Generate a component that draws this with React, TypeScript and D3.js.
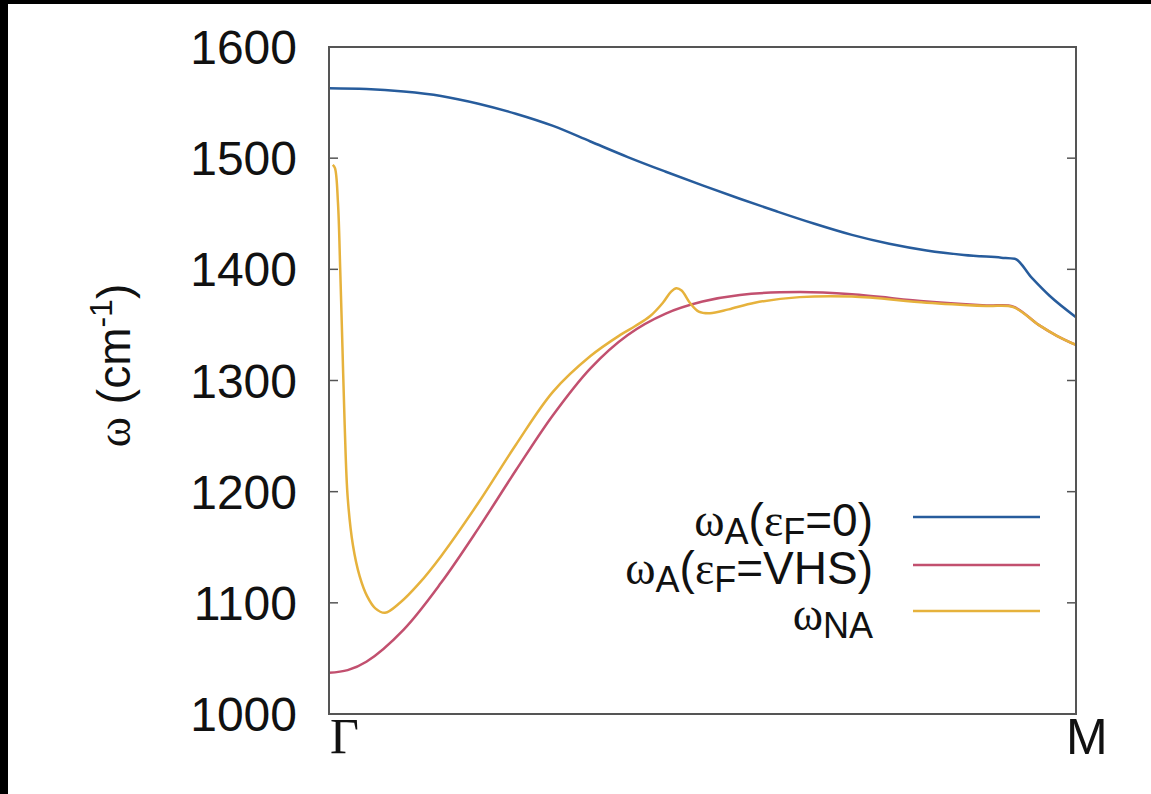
import React from "react";
import * as d3 from "d3";

// ---- data (k path from Γ (0) to M (1), ω in cm^-1) ----
const yTicks = [1000, 1100, 1200, 1300, 1400, 1500, 1600];
const xLabels = ["Γ", "M"];

const blueK = [0, 0.05, 0.1, 0.15, 0.2, 0.25, 0.3, 0.35, 0.4, 0.45, 0.5, 0.55, 0.6, 0.65, 0.7, 0.75, 0.8, 0.85, 0.9, 0.918, 0.94, 0.965, 1];
const blueW = [1563, 1562.3, 1560, 1556, 1549, 1540, 1529, 1515, 1501, 1488, 1475.5, 1463.5, 1452, 1441, 1431, 1423, 1417, 1413, 1410.5, 1409.5, 1393, 1376, 1357];

const redK = [0, 0.025, 0.05, 0.1, 0.15, 0.2, 0.25, 0.3, 0.35, 0.4, 0.45, 0.5, 0.55, 0.63, 0.7, 0.8, 0.88, 0.916, 0.95, 0.975, 1];
const redW = [1037, 1039.5, 1047, 1076, 1118, 1167, 1219, 1269, 1311, 1341, 1360, 1371, 1377, 1379.5, 1377.5, 1371, 1367.5, 1366.5, 1350, 1340, 1332];

const yelK = [0.005, 0.008, 0.012, 0.015, 0.018, 0.021, 0.025, 0.032, 0.041, 0.051, 0.062, 0.075, 0.095, 0.12, 0.15, 0.2, 0.25, 0.3, 0.35, 0.39, 0.41, 0.43, 0.447, 0.458, 0.465, 0.472, 0.483, 0.495, 0.51, 0.535, 0.57, 0.63, 0.7, 0.8, 0.88, 0.916, 0.95, 0.975, 1];
const yelW = [1494, 1491, 1460, 1400, 1330, 1260, 1195, 1152, 1124, 1106, 1095, 1091, 1100, 1117, 1142, 1190, 1242, 1290, 1322, 1341, 1349, 1358, 1370, 1380, 1383, 1381, 1370, 1362, 1360.5, 1364, 1370, 1375, 1375.5, 1370, 1367, 1366, 1350, 1340, 1332];

const seriesNames = ["A0", "AVHS", "NA"];
const seriesColors = ["#275c9c", "#c2506f", "#e6b23c"];

const W = 1151;
const H = 794;
const M = { left: 329, top: 47, right: 1076, bottom: 714 };

export default function App() {
  const x = d3.scaleLinear().domain([0, 1]).range([M.left, M.right]);
  const y = d3.scaleLinear().domain([1000, 1600]).range([M.bottom, M.top]);
  const lineCR = d3
    .line<[number, number]>()
    .x((d) => x(d[0]))
    .y((d) => y(d[1]))
    .curve(d3.curveCatmullRom.alpha(0.5));
  const lineMono = d3
    .line<[number, number]>()
    .x((d) => x(d[0]))
    .y((d) => y(d[1]))
    .curve(d3.curveMonotoneX);

  const series = [
    blueK.map((k, i) => [k, blueW[i]] as [number, number]),
    redK.map((k, i) => [k, redW[i]] as [number, number]),
    yelK.map((k, i) => [k, yelW[i]] as [number, number]),
  ];
  const gens = [lineMono, lineCR, lineCR];

  const sans = "'Liberation Sans', Arial, sans-serif";
  const serif = "'Liberation Serif', 'Times New Roman', serif";
  const legFs = 46;
  const subFs = 36;
  const sub = 8;
  const legendX = 873;
  const legendY = [536, 584, 630];
  const legLineX = [913, 1040];

  return (
    <svg
      width={W}
      height={H}
      style={{ position: "absolute", left: 0, top: 0, background: "#fff" }}
    >
      <rect x={0} y={0} width={W} height={4} fill="#000" />
      <rect x={0} y={0} width={8} height={H} fill="#000" />

      {/* ticks */}
      {yTicks.map((t) => (
        <g key={t}>
          <line x1={M.left} x2={M.left + 9} y1={y(t)} y2={y(t)} stroke="#555" strokeWidth={1.5} />
          <line x1={M.right} x2={M.right - 9} y1={y(t)} y2={y(t)} stroke="#555" strokeWidth={1.5} />
          <text x={297} y={y(t) + 17} textAnchor="end" fontFamily={sans} fontSize={48} fill="#111">
            {t}
          </text>
        </g>
      ))}

      {/* curves */}
      {series.map((s, i) => (
        <path key={seriesNames[i]} d={gens[i](s) || ""} fill="none" stroke={seriesColors[i]} strokeWidth={2.5} />
      ))}

      {/* frame */}
      <rect
        x={M.left}
        y={M.top}
        width={M.right - M.left}
        height={M.bottom - M.top}
        fill="none"
        stroke="#555"
        strokeWidth={2}
      />

      {/* x labels */}
      <text x={330} y={753} fontFamily={serif} fontSize={50} fill="#111">
        {xLabels[0]}
      </text>
      <text x={1066} y={754} fontFamily={sans} fontSize={50} fill="#111">
        {xLabels[1]}
      </text>

      {/* y label */}
      <text
        transform={`translate(130,${(M.top + M.bottom) / 2 - 15}) rotate(-90)`}
        textAnchor="middle"
        fontFamily={sans}
        fontSize={46}
        fill="#111"
      >
        <tspan fontFamily={serif}>ω</tspan>
        <tspan> (cm</tspan>
        <tspan dy={-18} fontSize={32}>-1</tspan>
        <tspan dy={18}>)</tspan>
      </text>

      {/* legend */}
      <text x={legendX} y={legendY[0]} textAnchor="end" fontFamily={sans} fontSize={legFs} fill="#111">
        <tspan fontFamily={serif}>ω</tspan>
        <tspan dy={sub} fontSize={subFs}>A</tspan>
        <tspan dy={-sub}>(</tspan>
        <tspan fontFamily={serif}>ε</tspan>
        <tspan dy={sub} fontSize={subFs}>F</tspan>
        <tspan dy={-sub}>=0)</tspan>
      </text>
      <text x={legendX} y={legendY[1]} textAnchor="end" fontFamily={sans} fontSize={legFs} fill="#111">
        <tspan fontFamily={serif}>ω</tspan>
        <tspan dy={sub} fontSize={subFs}>A</tspan>
        <tspan dy={-sub}>(</tspan>
        <tspan fontFamily={serif}>ε</tspan>
        <tspan dy={sub} fontSize={subFs}>F</tspan>
        <tspan dy={-sub}>=VHS)</tspan>
      </text>
      <text x={legendX} y={legendY[2]} textAnchor="end" fontFamily={sans} fontSize={legFs} fill="#111">
        <tspan fontFamily={serif}>ω</tspan>
        <tspan dy={sub} fontSize={subFs}>NA</tspan>
      </text>
      {seriesColors.map((c, i) => (
        <line
          key={c}
          x1={legLineX[0]}
          x2={legLineX[1]}
          y1={legendY[i] - 19}
          y2={legendY[i] - 19}
          stroke={c}
          strokeWidth={2.5}
        />
      ))}
    </svg>
  );
}
